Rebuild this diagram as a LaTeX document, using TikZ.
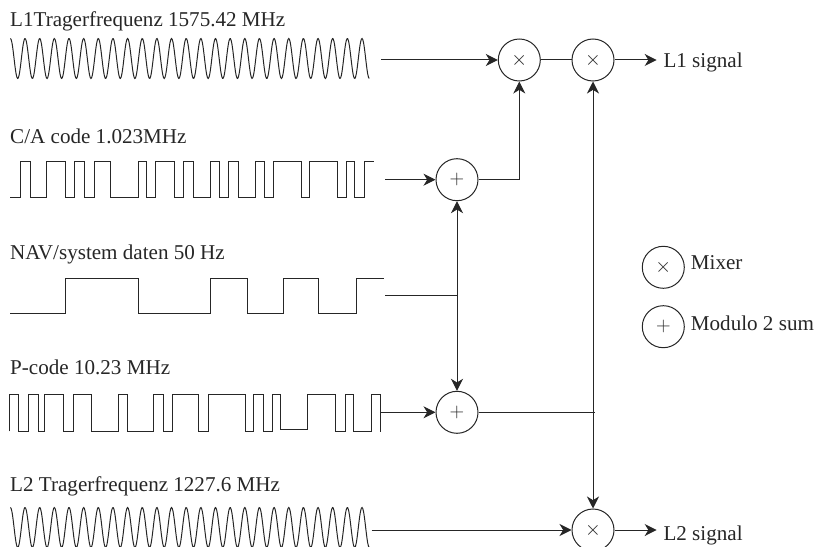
\documentclass[tikz,border=0pt]{standalone}
\usepackage{fontspec}
\setmainfont{Liberation Serif}
\usetikzlibrary{arrows.meta}
\tikzset{
  sigline/.style={black!85,line width=0.3mm},
  conn/.style={black!85,line width=0.3mm},
  mixop/.style={circle,draw=black!85,line width=0.3mm,minimum size=12.6mm,inner sep=0pt,text=black!85},
  lbl/.style={anchor=base west,inner sep=0pt,text=black!85}
}
\begin{document}
\begin{tikzpicture}[x=0.3mm,y=-0.3mm,>={Stealth[length=3.6mm,width=3.6mm,inset=1.1mm]},font=\fontsize{18}{21}\selectfont,line join=miter]
\useasboundingbox (0,0) rectangle (815,547);
% signal names
\node[lbl] (namelone) at (10,27) {L1Tragerfrequenz 1575.42 MHz};
\node[lbl] (nameca) at (10,144) {C/A code 1.023MHz};
\node[lbl] (namenav) at (10,259.3) {NAV/system daten 50 Hz};
\node[lbl] (namep) at (10,374.7) {P-code 10.23 MHz};
\node[lbl] (nameltwo) at (10,491.3) {L2 Tragerfrequenz 1227.6 MHz};
% waves
\draw[sigline] plot[domain=0:24.5,samples=500,smooth] ({10.4+14.65*\x},{58.5-20*cos(360*\x)});
\draw[sigline] plot[domain=0:24.5,samples=500,smooth] ({10.4+14.65*\x},{527.5-20*cos(360*\x)});
\draw[sigline] (10,197.7) -| (20,161.7) -| (30,197.7) -| (46.3,161.7) -| (65,197.7) -| (74.3,161.7)
  -| (84.7,197.7) -| (94,161.7) -| (110.3,197.7) -| (138.7,161.7) -| (146.3,197.7) -| (155.7,161.7)
  -| (174.3,197.7) -| (183.7,161.7) -| (193.5,197.7) -| (210,161.7) -| (219.3,197.7) -| (228.7,161.7)
  -| (238,197.7) -| (255,161.7) -| (264.3,197.7) -| (273.7,161.7) -| (301.7,197.7) -| (309.7,161.7)
  -| (337.3,197.7) -| (346.7,161.7) -| (354.7,197.7) -| (364,161.7) -- (374.3,161.7);
\draw[sigline] (10,313.7) -| (65.7,278.7) -| (138.7,313.7) -| (210,278.7) -| (247.3,313.7) -| (283.3,278.7)
  -| (318.3,313.7) -| (356.3,278.7) -- (384,278.7);
\draw[sigline] (9.3,431.3) |- (18.3,394.7) |- (28.3,431.3) |- (38,394.7) |- (44.7,431.3) |- (63.7,394.7)
  |- (73.3,431.3) |- (91.7,394.7) |- (118.3,431.3) |- (127.3,394.7) |- (153.7,431.3) |- (163.7,394.7)
  |- (172.3,431.3) |- (198.7,394.7) |- (208,431.3) |- (245.7,394.7) |- (253,431.3) |- (263,394.7)
  |- (272.3,431.3) |- (280.7,394.7) |- (307.7,429.7) |- (335.7,394.7) |- (345,431.3) |- (353,394.7)
  |- (371,431.3) |- (380.7,394.7) -- (380.7,432);
% operators
\node[mixop] (mixone) at (519.3,60) {$\times$};
\node[mixop] (mixtwo) at (593,60) {$\times$};
\node[mixop] (sumca) at (457,179.7) {$+$};
\node[mixop] (sump) at (457,412.3) {$+$};
\node[mixop] (mixthree) at (593,530) {$\times$};
\node[mixop] (keymix) at (663.3,267.3) {$\times$};
\node[mixop] (keysum) at (663.3,326.7) {$+$};
\node[lbl] (keymixtxt) at (690.7,270) {Mixer};
\node[lbl] (keysumtxt) at (690.7,330.7) {Modulo 2 sum};
\node[lbl] (outone) at (663.3,67.7) {L1 signal};
\node[lbl] (outtwo) at (663.3,540) {L2 signal};
% connector ends
\coordinate (fromlone) at (381,60);
\coordinate (fromca) at (385,179.7);
\coordinate (fromnav) at (385,296);
\coordinate (navjoin) at (457,296);
\coordinate (fromp) at (380.7,412.3);
\coordinate (pjoin) at (593,412.3);
\coordinate (pstub) at (595,412.3);
\coordinate (fromltwo) at (371.7,530);
\coordinate (endone) at (656.7,60);
\coordinate (endtwo) at (656.7,530);
% connectors
\draw[conn,->] (fromlone) -- (mixone);
\draw[conn] (mixone) -- (mixtwo);
\draw[conn,->] (mixtwo) -- (endone);
\draw[conn,->] (fromca) -- (sumca);
\draw[conn,->] (sumca) -| (mixone);
\draw[conn] (fromnav) -- (navjoin);
\draw[conn,->] (navjoin) -- (sumca);
\draw[conn,->] (navjoin) -- (sump);
\draw[conn,->] (fromp) -- (sump);
\draw[conn] (sump) -- (pstub);
\draw[conn,->] (pjoin) -- (mixtwo);
\draw[conn,->] (pjoin) -- (mixthree);
\draw[conn,->] (fromltwo) -- (mixthree);
\draw[conn,->] (mixthree) -- (endtwo);
\end{tikzpicture}
\end{document}
